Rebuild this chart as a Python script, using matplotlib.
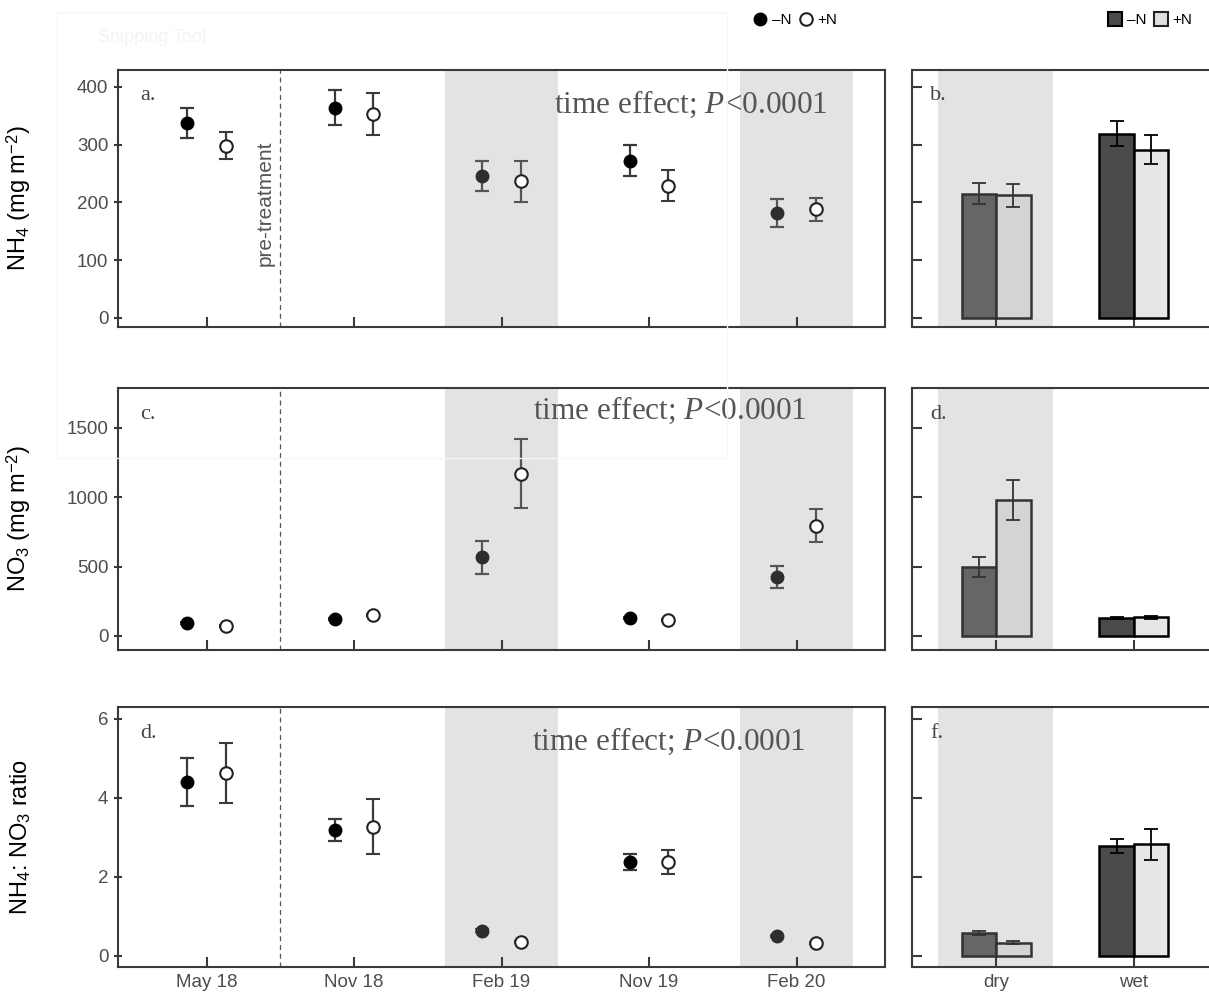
import numpy as np
import matplotlib
matplotlib.use("Agg")
import matplotlib.pyplot as plt
from matplotlib.lines import Line2D
from matplotlib.patches import Rectangle

plt.rcParams["font.family"] = ["Liberation Sans", "DejaVu Sans"]
plt.rcParams["mathtext.fontset"] = "custom"
plt.rcParams["mathtext.rm"] = "Liberation Sans"
plt.rcParams["mathtext.it"] = "Liberation Serif:italic"

# --- Données ---
dates = ["May 18", "Nov 18", "Feb 19", "Nov 19", "Feb 20"]
seasons = ["dry", "wet"]

nh4_minus = [338, 364, 246, 272, 182]
nh4_minus_se = [26, 31, 26, 27, 24]
nh4_plus = [298, 353, 236, 229, 188]
nh4_plus_se = [23, 37, 35, 27, 20]

no3_minus = [91, 120, 567, 127, 424]
no3_minus_se = [8, 8, 120, 6, 79]
no3_plus = [74, 151, 1168, 113, 795]
no3_plus_se = [6, 10, 249, 6, 122]

ratio_minus = [4.40, 3.19, 0.64, 2.37, 0.51]
ratio_minus_se = [0.60, 0.27, 0.03, 0.20, 0.03]
ratio_plus = [4.62, 3.27, 0.36, 2.37, 0.32]
ratio_plus_se = [0.76, 0.70, 0.03, 0.30, 0.03]

nh4_bar_minus = [215, 319]
nh4_bar_minus_se = [18, 22]
nh4_bar_plus = [212, 291]
nh4_bar_plus_se = [20, 25]

no3_bar_minus = [498, 127]
no3_bar_minus_se = [72, 8]
no3_bar_plus = [981, 134]
no3_bar_plus_se = [143, 9]

ratio_bar_minus = [0.59, 2.79]
ratio_bar_minus_se = [0.05, 0.18]
ratio_bar_plus = [0.34, 2.83]
ratio_bar_plus_se = [0.04, 0.39]

dry_dates = [2, 4]   # Feb 19, Feb 20 (saison sèche)

rows = [
    dict(m=nh4_minus, ms=nh4_minus_se, p=nh4_plus, ps=nh4_plus_se,
         bm=nh4_bar_minus, bms=nh4_bar_minus_se, bp=nh4_bar_plus, bps=nh4_bar_plus_se,
         ylim=(-16, 429), ticks=[0, 100, 200, 300, 400],
         ylabel="NH$_4$ (mg m$^{-2}$)", lab=("a.", "b."), txt=(0.747, 0.865)),
    dict(m=no3_minus, ms=no3_minus_se, p=no3_plus, ps=no3_plus_se,
         bm=no3_bar_minus, bms=no3_bar_minus_se, bp=no3_bar_plus, bps=no3_bar_plus_se,
         ylim=(-101, 1785), ticks=[0, 500, 1000, 1500],
         ylabel="NO$_3$ (mg m$^{-2}$)", lab=("c.", "d."), txt=(0.72, 0.915)),
    dict(m=ratio_minus, ms=ratio_minus_se, p=ratio_plus, ps=ratio_plus_se,
         bm=ratio_bar_minus, bms=ratio_bar_minus_se, bp=ratio_bar_plus, bps=ratio_bar_plus_se,
         ylim=(-0.28, 6.3), ticks=[0, 2, 4, 6],
         ylabel="NH$_4$: NO$_3$ ratio", lab=("d.", "f."), txt=(0.718, 0.868)),
]

W, H = 1209, 994
fig = plt.figure(figsize=(W / 100, H / 100), dpi=100)

# positions des panneaux en pixels (haut, bas)
row_px = [(70, 327), (388, 650), (707, 967)]
shade = "#e3e3e3"
spine_c = "#3a3a3a"
tick_c = "#4d4d4d"

x = np.arange(len(dates))
xb = np.arange(len(seasons))
off = 0.13

for i, r in enumerate(rows):
    top, bot = row_px[i]
    b = 1 - bot / H
    h = (bot - top) / H
    ax = fig.add_axes([118 / W, b, 767 / W, h])
    axb = fig.add_axes([912 / W, b, 306 / W, h])

    # --- série temporelle ---
    for d in dry_dates:
        ax.axvspan(d - 0.385, d + 0.385, color=shade, lw=0, zorder=0)
    ax.axvline(0.5, color="#555555", ls=(0, (4, 3)), lw=0.9, zorder=1)

    for j in range(len(dates)):
        fc = "#2e2e2e" if j in dry_dates else "black"
        ec = "#555555" if j in dry_dates else "#3a3a3a"
        ax.errorbar(x[j] - off, r["m"][j], yerr=r["ms"][j], fmt="o", ms=9,
                    mfc=fc, mec=fc, ecolor=ec, elinewidth=1.6, capsize=5,
                    capthick=1.6, zorder=3)
        ax.errorbar(x[j] + off, r["p"][j], yerr=r["ps"][j], fmt="o", ms=9,
                    mfc="white", mec="#222222", mew=1.5, ecolor=ec,
                    elinewidth=1.6, capsize=5, capthick=1.6, zorder=3)

    ax.set_xlim(-0.6, 4.6)
    ax.set_ylim(*r["ylim"])
    ax.set_yticks(r["ticks"])
    ax.set_xticks(x)
    if i == 2:
        ax.set_xticklabels(dates)
    else:
        ax.set_xticklabels([])
    ax.tick_params(axis="x", direction="in", length=7, width=1.5, color=spine_c,
                   labelsize=13.5, labelcolor=tick_c, pad=5)
    ax.tick_params(axis="y", direction="inout", length=6, width=1.5, color=spine_c,
                   labelsize=13.5, labelcolor=tick_c, pad=4)
    ax.set_ylabel(r["ylabel"], fontsize=17, color="black")
    ax.yaxis.set_label_coords(-0.111, 0.5)
    ax.text(0.029, 0.90, r["lab"][0], transform=ax.transAxes, family="Liberation Serif",
            fontsize=16, color="#444444", va="center")
    ax.text(r["txt"][0], r["txt"][1], "time effect; $P$<0.0001", transform=ax.transAxes,
            family="Liberation Serif", fontsize=22.5, color="#555555",
            ha="center", va="center", zorder=5)
    if i == 0:
        ax.text(0.192, 0.48, "pre-treatment", transform=ax.transAxes,
                rotation=90, fontsize=15, color="#555555", ha="center", va="center")

    # --- barres saison ---
    axb.axvspan(-0.42, 0.41, color=shade, lw=0, zorder=0)
    fc_m = ["#666666", "#4a4a4a"]
    fc_p = ["#d4d4d4", "#e6e6e6"]
    ec_b = ["#333333", "black"]
    for k in range(len(seasons)):
        axb.bar(xb[k] - 0.125, r["bm"][k], width=0.25, color=fc_m[k], edgecolor=ec_b[k],
                lw=1.8, zorder=2)
        axb.bar(xb[k] + 0.125, r["bp"][k], width=0.25, color=fc_p[k], edgecolor=ec_b[k],
                lw=1.8, zorder=2)
        axb.errorbar(xb[k] - 0.125, r["bm"][k], yerr=r["bms"][k], fmt="none",
                     ecolor=ec_b[k], elinewidth=1.3, capsize=5, capthick=1.3, zorder=3)
        axb.errorbar(xb[k] + 0.125, r["bp"][k], yerr=r["bps"][k], fmt="none",
                     ecolor=ec_b[k], elinewidth=1.3, capsize=5, capthick=1.3, zorder=3)
    axb.set_xlim(-0.61, 1.61)
    axb.set_ylim(*r["ylim"])
    axb.set_yticks(r["ticks"])
    axb.set_yticklabels([])
    axb.set_xticks(xb)
    if i == 2:
        axb.set_xticklabels(seasons)
    else:
        axb.set_xticklabels([])
    axb.tick_params(axis="both", direction="in", length=7, width=1.5, color=spine_c,
                    labelsize=13.5, labelcolor=tick_c, pad=5)
    axb.text(0.06, 0.90, r["lab"][1], transform=axb.transAxes, family="Liberation Serif",
             fontsize=16, color="#444444", va="center")

    for a in (ax, axb):
        for s in a.spines.values():
            s.set_color(spine_c)
            s.set_linewidth(1.5)

# --- légendes en haut ---
h1 = [Line2D([], [], marker="o", ls="none", ms=9, mfc="black", mec="black"),
      Line2D([], [], marker="o", ls="none", ms=9, mfc="white", mec="#222222", mew=1.5)]
fig.legend(h1, ["\u2013N", "+N"], loc="center", bbox_to_anchor=(795 / W, 1 - 20 / H),
           ncol=2, frameon=False, fontsize=11, handletextpad=0.3, columnspacing=0.4,
           handlelength=1.0)
h2 = [Line2D([], [], marker="s", ls="none", ms=10, mfc="#4a4a4a", mec="black", mew=1.5),
      Line2D([], [], marker="s", ls="none", ms=10, mfc="#e0e0e0", mec="#222222", mew=1.5)]
fig.legend(h2, ["\u2013N", "+N"], loc="center", bbox_to_anchor=(1150 / W, 1 - 20 / H),
           ncol=2, frameon=False, fontsize=11, handletextpad=0.3, columnspacing=0.4,
           handlelength=1.0)

# fantôme de la fenêtre "Snipping Tool" visible sur la capture
fig.add_artist(Rectangle((57 / W, 1 - 458 / H), 670 / W, 446 / H, transform=fig.transFigure,
                         facecolor="none", edgecolor="#f6f6f6", lw=1.0, zorder=10))
fig.text(98 / W, 1 - 38 / H, "Snipping Tool", fontsize=13, color="#f3f3f3",
         va="center", zorder=10)

plt.savefig("out.png", dpi=100)
